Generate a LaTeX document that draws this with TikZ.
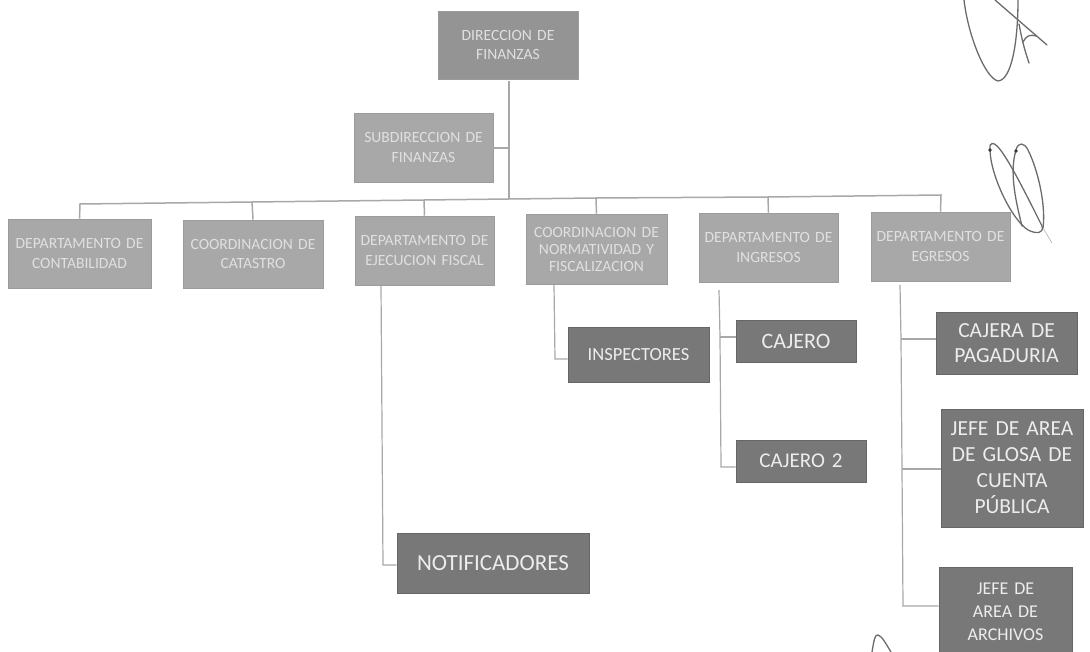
\documentclass[tikz,border=0pt]{standalone}
\usepackage{fontspec}
\setmainfont{Carlito}
\definecolor{lightbox}{gray}{0.66}
\definecolor{darkbox}{gray}{0.47}
\definecolor{lighttext}{gray}{0.88}
\definecolor{darktext}{gray}{0.93}
\definecolor{conn}{gray}{0.66}
\definecolor{ink}{gray}{0.42}
\newcommand{\orgbox}[7]{%
  \pgfmathsetmacro{\bw}{#4-#2}\pgfmathsetmacro{\bh}{#5-#3}%
  \pgfmathsetmacro{\cx}{(#2+#4)/2}\pgfmathsetmacro{\cy}{(#3+#5)/2}%
  \node[#6,minimum width=\bw pt,minimum height=\bh pt,text width=\bw pt] (#1) at (\cx,\cy) {#7};}
\tikzset{
  lightnode/.style={fill=lightbox,draw=lightbox!92!black,line width=.6pt,inner sep=0pt,align=center,text=lighttext,font=\fontsize{15.6}{19.5}\selectfont},
  darknode/.style={fill=darkbox,draw=darkbox!85!black,line width=.8pt,inner sep=0pt,align=center,text=darktext,font=\fontsize{18.5}{27}\selectfont},
  linkline/.style={draw=conn,line width=1.5pt},
  linkthin/.style={draw=conn,line width=1.2pt},
  pen/.style={draw=ink,line width=1.3pt,line cap=round,line join=round}
}
\begin{document}
\begin{tikzpicture}[x=1pt,y=-1pt]
\useasboundingbox (0,0) rectangle (1090,652);
\orgbox{dir}{438}{11}{578}{79}{lightnode,fill=lightbox!88!black}{DIRECCION DE\\FINANZAS}
\orgbox{sub}{354}{113}{493}{182}{lightnode}{SUBDIRECCION DE\\FINANZAS}
\orgbox{cont}{8}{219}{151}{288}{lightnode}{DEPARTAMENTO DE\\CONTABILIDAD}
\orgbox{cat}{183}{220}{323}{288}{lightnode}{COORDINACION DE\\CATASTRO}
\orgbox{ejec}{355}{216}{494}{285}{lightnode}{DEPARTAMENTO DE\\EJECUCION FISCAL}
\orgbox{norm}{526}{214}{667}{284}{lightnode,font=\fontsize{15.6}{17}\selectfont}{COORDINACION DE\\NORMATIVIDAD Y\\FISCALIZACION}
\orgbox{ing}{699}{213}{838}{282}{lightnode}{DEPARTAMENTO DE\\INGRESOS}
\orgbox{egr}{871}{212}{1010}{281}{lightnode}{DEPARTAMENTO DE\\EGRESOS}
\orgbox{insp}{568}{327}{709}{382}{darknode}{INSPECTORES}
\orgbox{caj}{736}{320}{856}{362}{darknode,font=\fontsize{22}{27}\selectfont}{CAJERO}
\orgbox{caj2}{736}{440}{866}{482}{darknode,font=\fontsize{21}{27}\selectfont}{CAJERO 2}
\orgbox{noti}{397}{533}{589}{593}{darknode,font=\fontsize{23}{27}\selectfont}{NOTIFICADORES}
\orgbox{pag}{936}{312}{1077}{374}{darknode,font=\fontsize{21.5}{25}\selectfont}{CAJERA DE\\PAGADURIA}
\orgbox{glosa}{941}{409}{1083}{527}{darknode,font=\fontsize{21.5}{26}\selectfont}{JEFE DE AREA\\DE GLOSA DE\\CUENTA\\PÚBLICA}
\orgbox{arch}{939}{567}{1072}{656}{darknode,font=\fontsize{18}{23}\selectfont}{JEFE DE\\AREA DE\\ARCHIVOS}
% bus
\coordinate (bA) at (80,204);
\coordinate (bB) at (252,202);
\coordinate (bC) at (424,200);
\coordinate (bM) at (509,199);
\coordinate (bD) at (596,198);
\coordinate (bE) at (768,197);
\coordinate (bF) at (941,195);
\coordinate (subj) at (509,148);
\draw[linkline] (dir.south) ++(1,2) -- (bM);
\draw[linkline] (sub.east |- subj) -- (subj);
\draw[linkline] (cont.north) -- (bA) -- (bB) -- (bC) -- (bM) -- (bD) -- (bE) -- (bF) -- (egr.north);
\foreach \t/\b in {cat/bB,ejec/bC,norm/bD,ing/bE}{\draw[linkline] (\b) -- (\t.north);}
% branches
\coordinate (e1) at (381,286);
\coordinate (e2) at (383,565);
\draw[linkthin] (e1) -- (e2) -- (noti.west |- e2);
\coordinate (n1) at (554,285);
\coordinate (n2) at (555,359);
\draw[linkthin] (n1) -- (n2) -- (insp.west |- n2);
\coordinate (i1) at (719,290);
\coordinate (i2) at (720,337);
\coordinate (i3) at (721,467);
\draw[linkthin] (i1) -- (i2) -- (i3) -- (caj2.west |- i3);
\draw[linkthin] (i2) -- (caj.west |- i2);
\coordinate (g1) at (900,285);
\coordinate (g2) at (901,339);
\coordinate (g3) at (902,469);
\coordinate (g4) at (903,606);
\draw[linkthin] (g1) -- (g2) -- (g3) -- (g4) -- (arch.west |- g4);
\draw[linkthin] (g2) -- (pag.west |- g2);
\draw[linkthin] (g3) -- (glosa.west |- g3);
% signatures
\draw[pen] (964,0) .. controls (968,35) and (985,78) .. (998,81) .. controls (1012,80) and (1018,40) .. (1018,0);
\draw[pen] (995,0) -- (1047,45);
\draw[pen] (1019,24) .. controls (1022,40) and (1024,48) .. (1029,63);
\draw[pen] (1023,42) .. controls (1026,36) and (1030,34) .. (1036,36);
\draw[pen] (990,149) .. controls (989,142) and (994,142) .. (998,147) .. controls (1008,158) and (1025,192) .. (1042,226) .. controls (1044,234) and (1036,234) .. (1028,230) .. controls (1012,220) and (990,175) .. (990,149);
\draw[pen] (1016,150) .. controls (1018,142) and (1024,142) .. (1028,150) .. controls (1038,170) and (1046,205) .. (1043,228);
\draw[pen] (1016,150) .. controls (1010,170) and (1014,195) .. (1022,226);
\draw[pen,line width=.5pt,draw=ink!60] (1043,228) -- (1052,243);
\fill[ink!50!black] (990,150) circle (1.8);
\fill[ink!50!black] (1016,151) circle (1.8);
\draw[pen] (872,652) .. controls (874,640) and (875,634) .. (878,635) .. controls (882,636) and (886,644) .. (891,652);
\end{tikzpicture}
\end{document}
